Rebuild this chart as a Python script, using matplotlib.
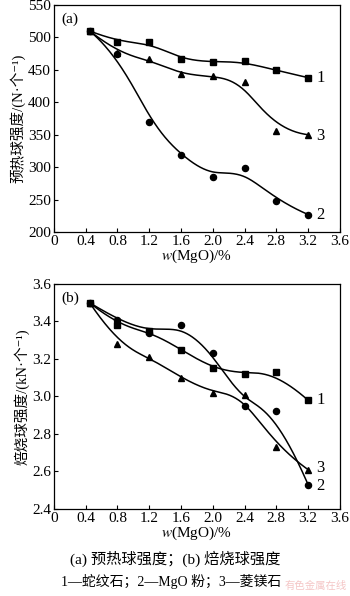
import numpy as np
import matplotlib
matplotlib.use("Agg")
import matplotlib.pyplot as plt

plt.rcParams['font.family'] = ['Liberation Serif', 'Noto Sans CJK SC', 'DejaVu Sans']
plt.rcParams['mathtext.fontset'] = 'stix'

# ---- data ----
x = [0.45, 0.8, 1.2, 1.6, 2.0, 2.4, 2.8, 3.2]

# (a) preheated pellet strength, N per pellet
a_serpentine = [510, 493, 493, 466, 462, 463, 449, 438]
a_mgo = [510, 474, 370, 318, 285, 298, 248, 227]
a_magnesite = [510, 476, 466, 443, 440, 432, 356, 350]

# (b) roasted pellet strength, kN per pellet
b_serpentine = [3.50, 3.38, 3.35, 3.25, 3.15, 3.12, 3.13, 2.98]
b_mgo = [3.50, 3.41, 3.34, 3.38, 3.23, 2.95, 2.92, 2.53]
b_magnesite = [3.50, 3.28, 3.21, 3.10, 3.02, 3.01, 2.73, 2.61]

series_labels = ['1', '2', '3']
xticks = [0, 0.4, 0.8, 1.2, 1.6, 2.0, 2.4, 2.8, 3.2, 3.6]
a_yticks = [200, 250, 300, 350, 400, 450, 500, 550]
b_yticks = [2.4, 2.6, 2.8, 3.0, 3.2, 3.4, 3.6]


def bspline(px, py, k=3, num=300):
    """Clamped cubic B-spline using data points as control points (Origin-style B-spline line)."""
    P = np.column_stack([px, py]).astype(float)
    n = len(P)
    inner = np.arange(1, n - k)
    t = np.concatenate([np.zeros(k + 1), inner, np.full(k + 1, n - k)]).astype(float)
    u = np.linspace(0, n - k, num)
    u[-1] -= 1e-9
    N = np.zeros((num, len(t) - 1))
    for i in range(len(t) - 1):
        N[:, i] = ((u >= t[i]) & (u < t[i + 1])).astype(float)
    for d in range(1, k + 1):
        Nn = np.zeros((num, len(t) - 1 - d))
        for i in range(len(t) - 1 - d):
            left = 0.0
            den1 = t[i + d] - t[i]
            if den1 > 0:
                left = (u - t[i]) / den1 * N[:, i]
            right = 0.0
            den2 = t[i + d + 1] - t[i + 1]
            if den2 > 0:
                right = (t[i + d + 1] - u) / den2 * N[:, i + 1]
            Nn[:, i] = left + right
        N = Nn
    C = N @ P
    return C[:, 0], C[:, 1]


fig = plt.figure(figsize=(3.5, 5.96), dpi=100)
ax1 = fig.add_axes([0.154, 0.6107, 0.817, 0.381])
ax2 = fig.add_axes([0.154, 0.146, 0.817, 0.3775])

markers = ['s', 'o', '^']


def draw(ax, ys, yticks, ylim, ylabel, tag, label_offsets):
    for y, m, lab, off in zip(ys, markers, series_labels, label_offsets):
        sx, sy = bspline(x, y)
        ax.plot(sx, sy, color='black', lw=1.1)
        ms = 4.6 if m == 's' else 4.4
        ax.plot(x, y, linestyle='none', marker=m, color='black', ms=ms)
        ax.text(x[-1] + 0.1, y[-1] + off, lab, fontsize=12, va='center', ha='left')
    ax.set_xlim(0, 3.6)
    ax.set_ylim(*ylim)
    ax.set_xticks(xticks)
    ax.set_xticklabels([('0' if v == 0 else f'{v:.1f}') for v in xticks])
    ax.set_yticks(yticks)
    ax.tick_params(direction='in', length=3, width=0.8, labelsize=11, pad=2)
    ax.set_ylabel(ylabel, fontsize=10.5, labelpad=2)
    ax.set_xlabel(r'$w$(MgO)/%', fontsize=11, labelpad=0)
    ax.text(0.025, 0.965, tag, transform=ax.transAxes, fontsize=11, va='top', ha='left')
    for s in ax.spines.values():
        s.set_linewidth(0.9)


draw(ax1, [a_serpentine, a_mgo, a_magnesite], a_yticks, (200, 550),
     '预热球强度/(N·个⁻¹)', '(a)', [0, 0, -2])
ax1.set_yticklabels([str(v) for v in a_yticks])
draw(ax2, [b_serpentine, b_mgo, b_magnesite], b_yticks, (2.4, 3.6),
     '焙烧球强度/(kN·个⁻¹)', '(b)', [0, -0.01, 0.01])
ax2.set_yticklabels([f'{v:.1f}' for v in b_yticks])

fig.text(0.5, 0.062, '(a) 预热球强度；(b) 焙烧球强度', ha='center', va='center', fontsize=11)
fig.text(0.49, 0.025, '1—蛇纹石；2—MgO 粉；3—菱镁石', ha='center', va='center', fontsize=10)
fig.text(0.992, 0.008, '有色金属在线', ha='right', va='bottom', fontsize=7.5,
         color='#f2b8b8', alpha=0.8)

fig.savefig('out.png', dpi=100)
